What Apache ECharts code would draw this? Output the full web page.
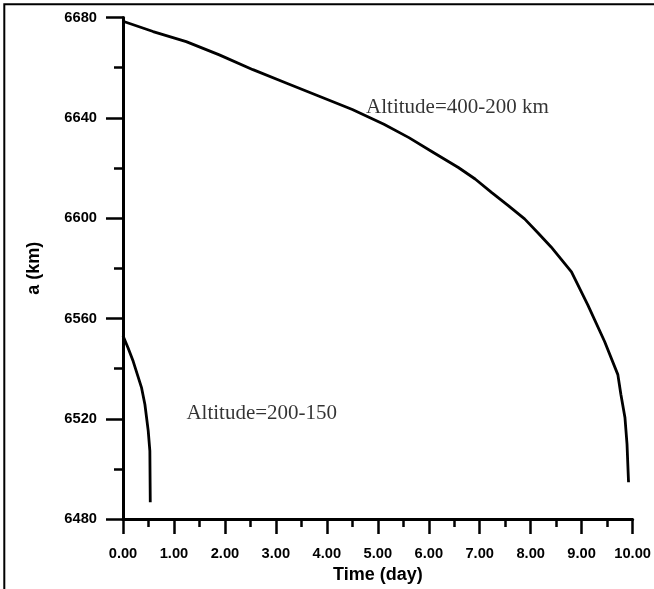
<!DOCTYPE html>
<html><head><meta charset="utf-8">
<script src="https://cdn.jsdelivr.net/npm/echarts@6/dist/echarts.min.js"></script>
<style>html,body{margin:0;padding:0;background:#fff}#c{width:654px;height:589px}</style>
</head><body><div id="c"></div>
<script>
const highT = [0, 0.59, 1.24, 1.89, 2.55, 3.20, 3.85, 4.50, 5.12, 5.61, 6.09, 6.58, 6.91, 7.23, 7.56, 7.88, 8.14, 8.40, 8.80, 9.12, 9.45, 9.71, 9.77, 9.85, 9.89, 9.92];
const highA = [6678.5, 6674.4, 6670.4, 6665.1, 6659.2, 6653.9, 6648.6, 6643.3, 6637.4, 6632.1, 6626.2, 6620.2, 6615.6, 6610.3, 6605.0, 6599.7, 6594.2, 6588.5, 6578.6, 6565.4, 6550.8, 6537.6, 6529.7, 6520.4, 6509.9, 6494.7];
const lowT = [0, 0.10, 0.20, 0.365, 0.43, 0.495, 0.527, 0.535];
const lowA = [6553.1, 6548.2, 6542.9, 6532.3, 6525.7, 6515.2, 6507.2, 6486.7];
const xTicks = [0, 1, 2, 3, 4, 5, 6, 7, 8, 9, 10];
const yTicks = [6480, 6520, 6560, 6600, 6640, 6680];
const labelNames = ['Altitude=400-200 km', 'Altitude=200-150'];
const labelT = [4.77, 1.244];
const labelA = [6644.2, 6522.2];

const chart = echarts.init(document.getElementById('c'));
const sans = '"Liberation Sans", Arial, sans-serif';
const serif = '"Liberation Serif", "Times New Roman", serif';
chart.setOption({
  animation: false,
  grid: { left: 123, top: 17.5, right: 19, bottom: 67 },
  xAxis: {
    type: 'value', min: xTicks[0], max: xTicks[xTicks.length - 1], interval: 1,
    name: 'Time (day)', nameLocation: 'middle', nameGap: 42,
    nameTextStyle: { fontFamily: sans, fontWeight: 'bold', fontSize: 18, color: '#000' },
    axisLine: { show: true, lineStyle: { color: '#000', width: 3 } },
    axisTick: { show: true, length: 15, lineStyle: { color: '#000', width: 2.5 } },
    minorTick: { show: true, splitNumber: 2, length: 8, lineStyle: { color: '#000', width: 2.5 } },
    splitLine: { show: false },
    axisLabel: { margin: 27, fontFamily: sans, fontWeight: 'bold', fontSize: 14.7, color: '#000',
      formatter: v => v.toFixed(2) }
  },
  yAxis: {
    type: 'value', min: yTicks[0], max: yTicks[yTicks.length - 1], interval: 40,
    name: 'a (km)', nameLocation: 'middle', nameGap: 80, nameRotate: 90,
    nameTextStyle: { fontFamily: sans, fontWeight: 'bold', fontSize: 18, color: '#000' },
    axisLine: { show: true, lineStyle: { color: '#000', width: 3 } },
    axisTick: { show: true, length: 17, lineStyle: { color: '#000', width: 2.5 } },
    minorTick: { show: true, splitNumber: 2, length: 9, lineStyle: { color: '#000', width: 2.5 } },
    splitLine: { show: false },
    axisLabel: { margin: 26, fontFamily: sans, fontWeight: 'bold', fontSize: 14.7, color: '#000',
      formatter: v => String(v) }
  },
  series: [
    { type: 'line', data: highT.map((t, i) => [t, highA[i]]), showSymbol: false, symbol: 'none',
      lineStyle: { color: '#000', width: 2.8 }, z: 3 },
    { type: 'line', data: lowT.map((t, i) => [t, lowA[i]]), showSymbol: false, symbol: 'none',
      lineStyle: { color: '#000', width: 2.8 }, z: 3 },
    { type: 'scatter', symbolSize: 0, silent: true,
      data: labelNames.map((n, i) => ({ name: n, value: [labelT[i], labelA[i]] })),
      label: { show: true, position: 'right', distance: 0, formatter: p => p.name,
        fontFamily: serif, fontSize: 21, color: '#000' } }
  ],
  graphic: [
    { type: 'rect', shape: { x: 4.3, y: 4.3, width: 800, height: 800 },
      style: { fill: null, stroke: '#000', lineWidth: 2 }, silent: true }
  ]
});
</script></body></html>
